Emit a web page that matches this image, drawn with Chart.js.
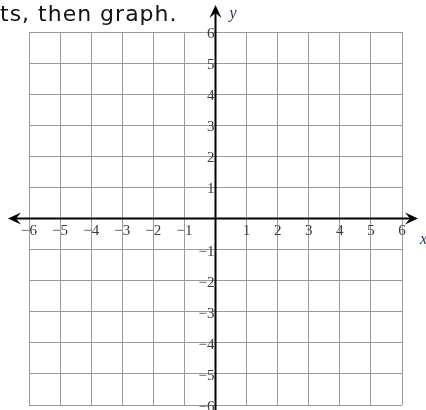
<!DOCTYPE html>
<html>
<head>
<meta charset="utf-8">
<script src="https://cdn.jsdelivr.net/npm/chart.js@4/dist/chart.umd.min.js"></script>
<style>
  html, body { margin: 0; padding: 0; background: #fff; }
  #wrap { position: relative; width: 426px; height: 410px; overflow: hidden; }
  #chart { position: absolute; left: 0; top: 0; }
  #consigne {
    position: absolute; left: 0; top: 1px;
    font-family: "DejaVu Sans", sans-serif; font-size: 22px; color: #111;
    letter-spacing: 1px; line-height: 26px;
    white-space: nowrap;
  }
</style>
</head>
<body>
<div id="wrap">
  <canvas id="chart" width="426" height="410"></canvas>
  <div id="consigne">ts, then graph.</div>
</div>
<script>
// Valeurs du repère
const xTicks = [-6, -5, -4, -3, -2, -1, 0, 1, 2, 3, 4, 5, 6];
const yTicks = [-6, -5, -4, -3, -2, -1, 0, 1, 2, 3, 4, 5, 6];
const points = []; // aucun point tracé sur la grille vide
const xTitle = 'x';
const yTitle = 'y';

const fmt = v => (v < 0 ? '\u2212' + Math.abs(v) : String(v));

// Flèches des axes + graduations au centre
const axesPlugin = {
  id: 'axes',
  afterDraw(chart) {
    const ctx = chart.ctx;
    const xs = chart.scales.x, ys = chart.scales.y;
    const x0 = xs.getPixelForValue(0);
    const y0 = ys.getPixelForValue(0);
    const W = chart.width, H = chart.height;

    ctx.save();
    ctx.strokeStyle = '#000';
    ctx.fillStyle = '#000';
    ctx.lineWidth = 2;

    // axe des x
    ctx.beginPath();
    ctx.moveTo(12, y0);
    ctx.lineTo(W - 12, y0);
    ctx.stroke();
    // axe des y
    ctx.beginPath();
    ctx.moveTo(x0, 9);
    ctx.lineTo(x0, H);
    ctx.stroke();

    function arrow(tx, ty, dx, dy) {
      const px = -dy, py = dx;
      ctx.beginPath();
      ctx.moveTo(tx, ty);
      ctx.lineTo(tx - dx * 13 + px * 6, ty - dy * 13 + py * 6);
      ctx.lineTo(tx - dx * 8, ty - dy * 8);
      ctx.lineTo(tx - dx * 13 - px * 6, ty - dy * 13 - py * 6);
      ctx.closePath();
      ctx.fill();
    }
    arrow(8, y0, -1, 0);
    arrow(W - 8, y0, 1, 0);
    arrow(x0, 5, 0, -1);

    // graduations
    ctx.fillStyle = '#3a3a3a';
    ctx.font = '15px "Liberation Serif", serif';
    ctx.textAlign = 'center';
    ctx.textBaseline = 'middle';
    xs.ticks.forEach(t => {
      if (t.value === 0) return;
      ctx.fillText(fmt(t.value), xs.getPixelForValue(t.value), y0 + 13);
    });
    ctx.textAlign = 'right';
    ys.ticks.forEach(t => {
      if (t.value === 0) return;
      ctx.fillText(fmt(t.value), x0 - 1, ys.getPixelForValue(t.value) + 2);
    });

    // titres des axes
    ctx.fillStyle = '#22325a';
    ctx.font = 'italic 16px "Liberation Serif", serif';
    ctx.textAlign = 'left';
    ctx.fillText(yTitle, x0 + 14, 14);
    ctx.fillText(xTitle, W - 6, y0 + 21);
    ctx.restore();
  }
};

const ctx = document.getElementById('chart').getContext('2d');
new Chart(ctx, {
  type: 'scatter',
  data: {
    datasets: [{
      data: points,
      pointRadius: 3,
      backgroundColor: '#000'
    }]
  },
  options: {
    responsive: false,
    animation: false,
    events: [],
    layout: { padding: { left: 29, right: 24, top: 32, bottom: 5 } },
    plugins: {
      legend: { display: false },
      tooltip: { enabled: false }
    },
    scales: {
      x: {
        type: 'linear',
        min: xTicks[0],
        max: xTicks[xTicks.length - 1],
        afterBuildTicks: s => { s.ticks = xTicks.map(v => ({ value: v })); },
        ticks: { display: false },
        grid: { color: '#9a9a9a', lineWidth: 1, drawTicks: false },
        border: { display: false }
      },
      y: {
        type: 'linear',
        min: yTicks[0],
        max: yTicks[yTicks.length - 1],
        afterBuildTicks: s => { s.ticks = yTicks.map(v => ({ value: v })); },
        ticks: { display: false },
        grid: { color: '#9a9a9a', lineWidth: 1, drawTicks: false },
        border: { display: false }
      }
    }
  },
  plugins: [axesPlugin]
});
</script>
</body>
</html>
